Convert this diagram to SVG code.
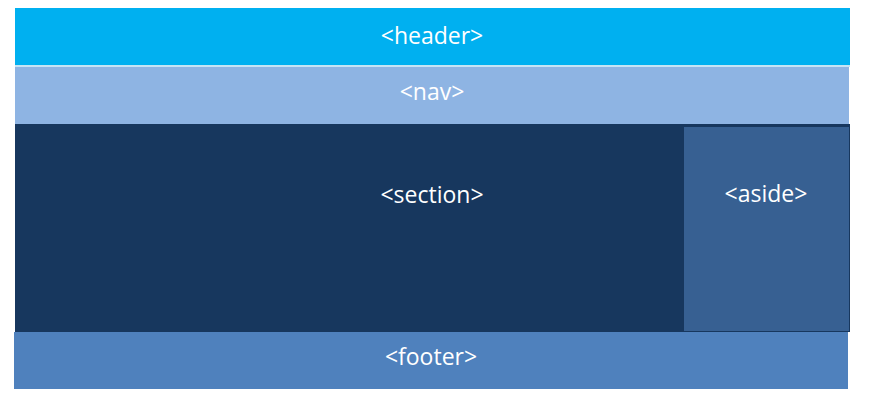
<svg xmlns="http://www.w3.org/2000/svg" width="875" height="406" viewBox="0 0 875 406">
<style>
.lbl{font-family:"Open Sans","Noto Sans",sans-serif;font-size:23px;fill:#ffffff;text-anchor:middle}
</style>
<rect width="875" height="406" fill="#ffffff"/>
<g id="header"><rect x="15" y="8" width="835" height="57" fill="#00B0F0"/><text class="lbl" x="432" y="44">&lt;header&gt;</text></g>
<rect x="15" y="65" width="835" height="2" fill="#C6E4F5"/>
<g id="nav"><rect x="15" y="67" width="834" height="57" fill="#8EB4E3"/><text class="lbl" x="432" y="100">&lt;nav&gt;</text></g>
<g id="section"><rect x="15" y="124" width="835" height="208" fill="#17375E"/><text class="lbl" x="432" y="203">&lt;section&gt;</text></g>
<g id="aside"><rect x="684" y="127" width="165" height="204" fill="#376092"/><text class="lbl" x="766" y="202">&lt;aside&gt;</text></g>
<g id="footer"><rect x="14" y="332" width="834" height="57" fill="#4F81BD"/><text class="lbl" x="431" y="365">&lt;footer&gt;</text></g>
<g id="connectors"></g>
</svg>
